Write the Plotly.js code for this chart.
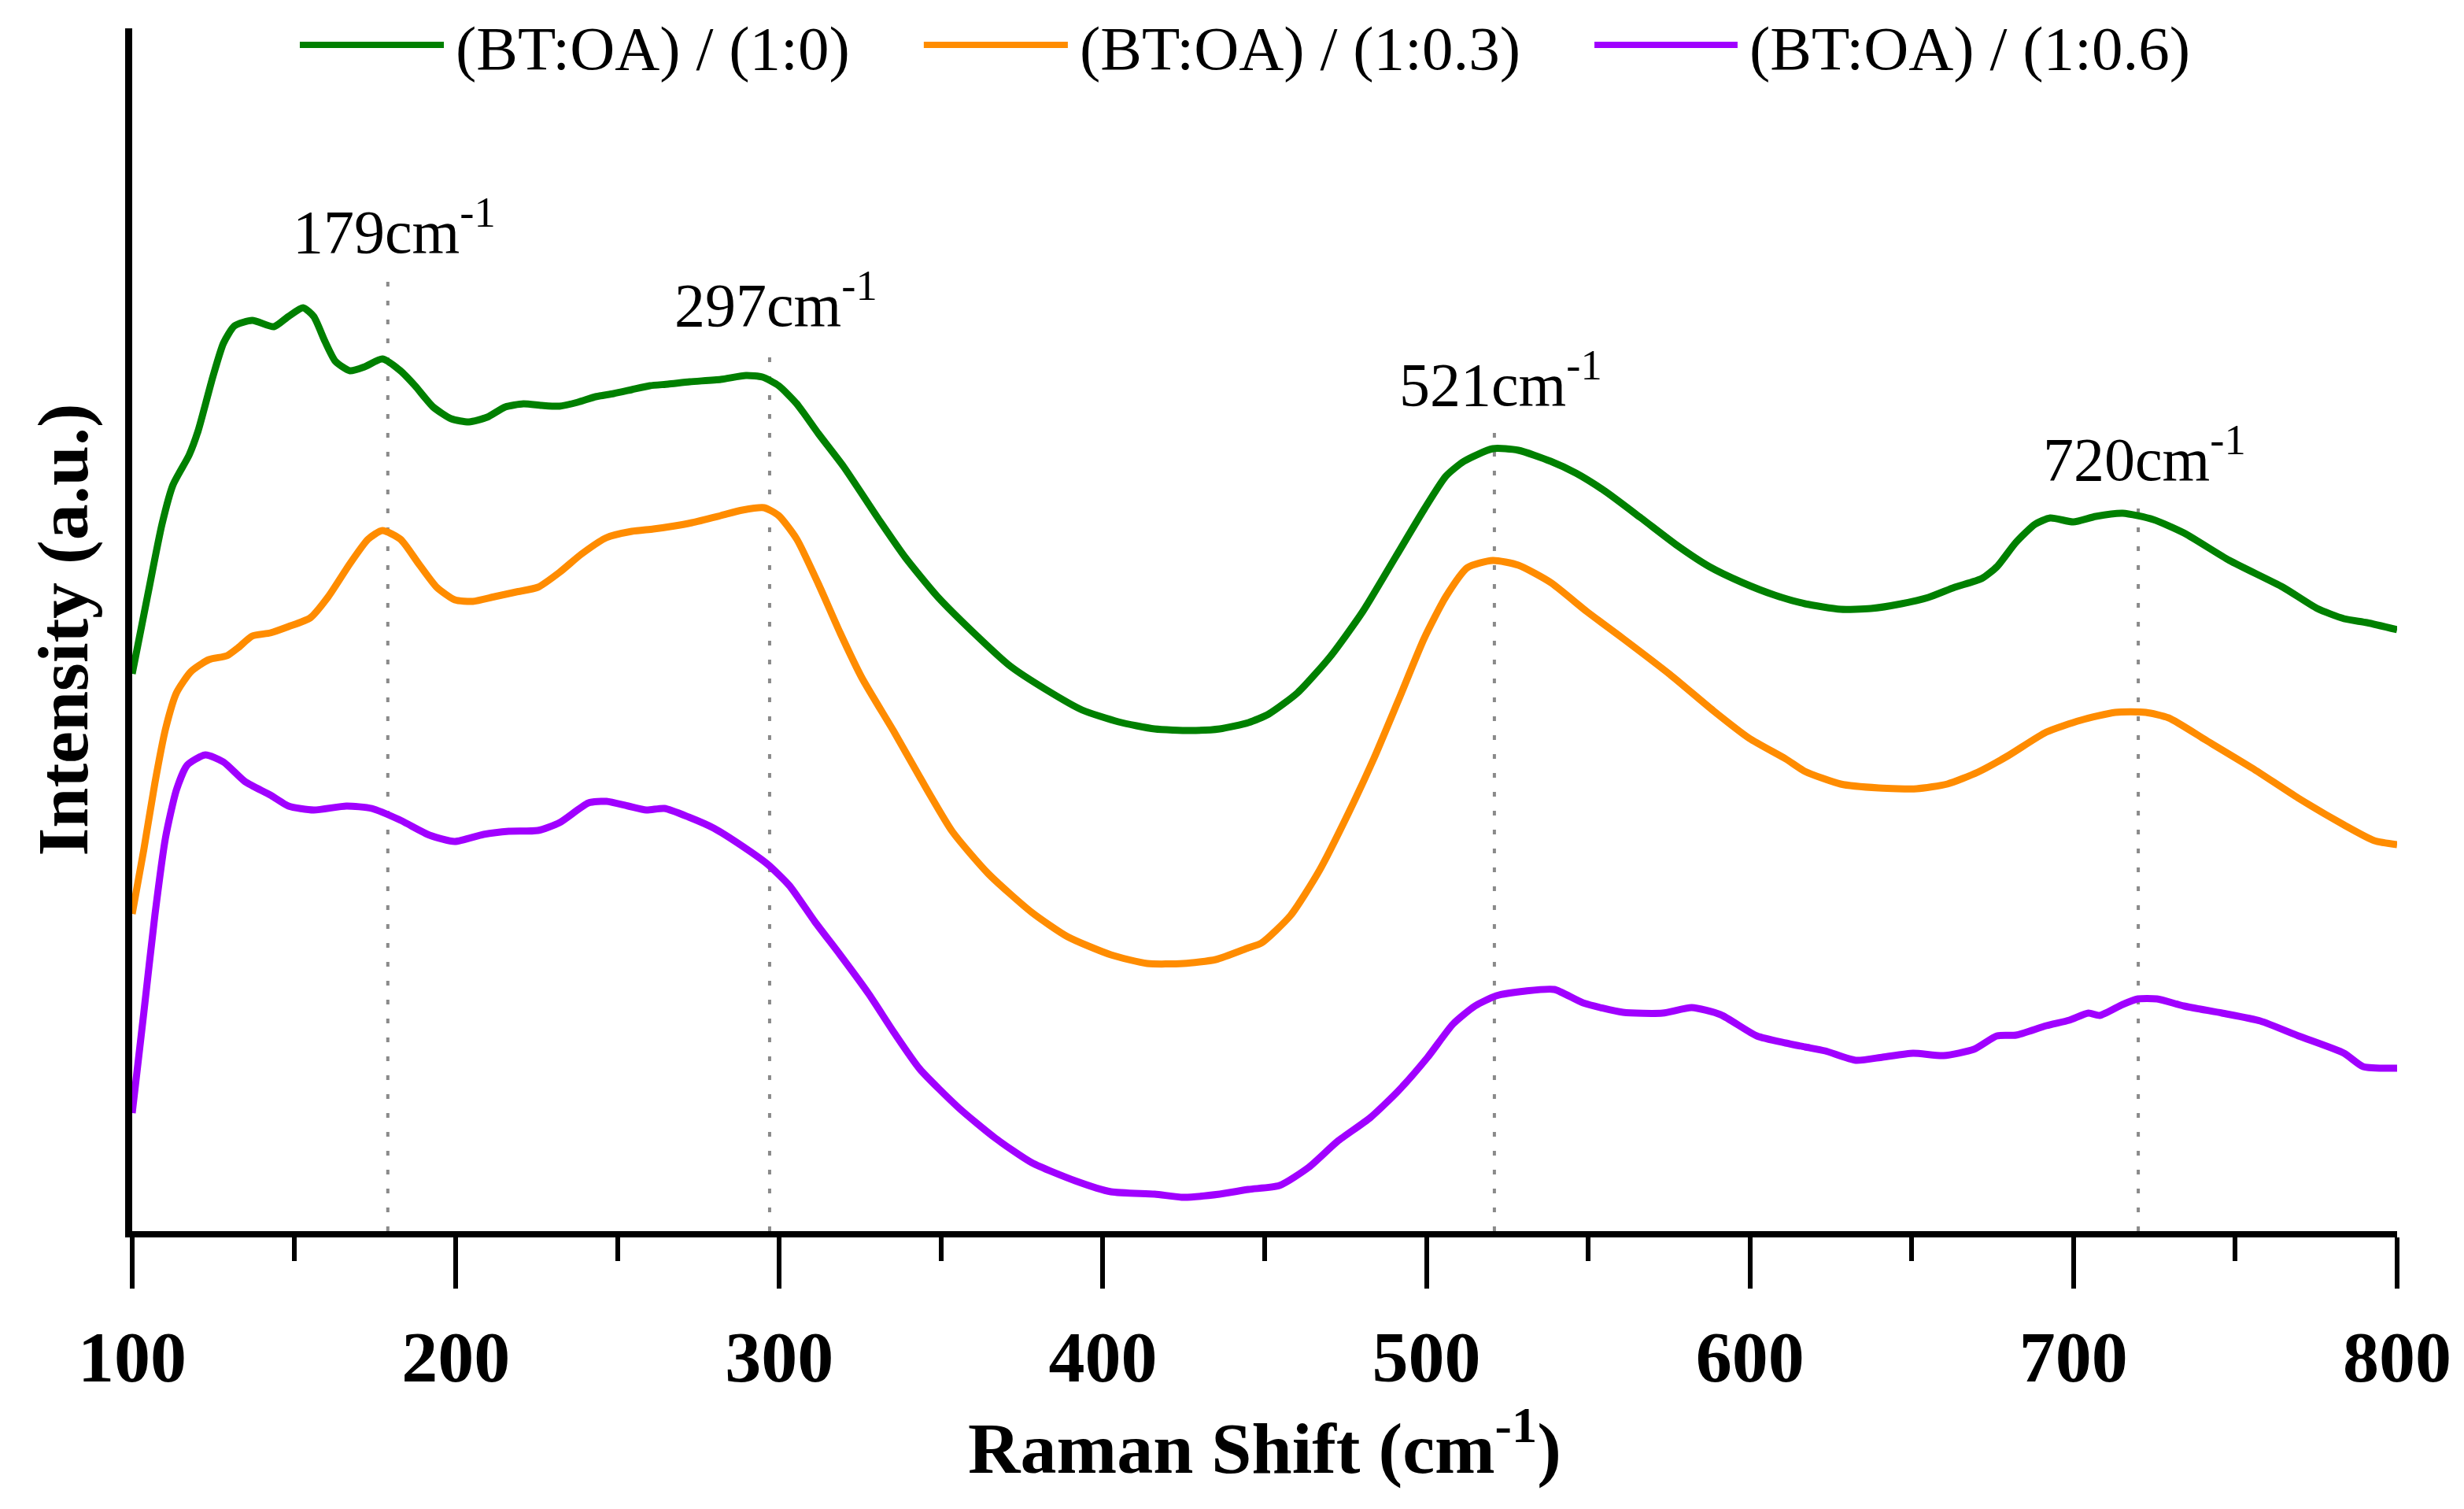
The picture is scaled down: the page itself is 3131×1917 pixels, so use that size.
<!DOCTYPE html>
<html>
<head>
<meta charset="utf-8">
<script src="https://cdn.plot.ly/plotly-3.0.1.min.js"></script>
<style>html,body{margin:0;padding:0;background:#fff;}#chart{width:3131px;height:1917px;}</style>
</head>
<body>
<div id="chart"></div>
<script>
// Raman shift (cm^-1) and intensity (a.u.)
const seriesNames = ["(BT:OA) / (1:0)", "(BT:OA) / (1:0.3)", "(BT:OA) / (1:0.6)"];
const seriesColors = ["#008000", "#ff8c00", "#a000ff"];

const shift_1_0 = [100,104.7,109.2,112.6,117.6,120.4,124.9,128.2,131.6,137.1,143.8,148.3,152.8,156.1,159.5,162.8,167.3,171.8,177.3,182.9,187.4,193,198.6,204.1,209.7,215.3,220.9,226.5,232.1,237.7,243.2,248.8,254.4,260,265.6,272.3,281.9,289.7,294.8,299.8,305.4,312.1,319.9,331.1,338.9,348.9,360.1,371.3,382.4,393.6,404.8,416,427.1,436.1,445,451.3,460.2,470.3,480.3,490.4,499.3,506,511.6,520.5,528.4,538.4,546.2,555.2,566.3,577.5,587.5,597.6,607.6,617,628,637.4,646.8,655.1,663.3,671.6,676.3,682.2,688.1,692.8,699.9,706.9,715.2,724.6,734.1,748.2,764.7,775.3,783.6,790.7,800];
const int_1_0 = [708,806,898,948,986,1017,1085,1128,1150,1157,1149,1162,1173,1162,1131,1105,1093,1098,1108,1093,1074,1047,1032,1028,1034,1047,1051,1049,1048,1053,1060,1064,1069,1074,1076,1079,1082,1087,1085,1074,1051,1013,971,902,856,806,760,718,688,662,647,638,636,638,646,657,684,730,787,856,917,959,978,994,992,978,963,940,906,871,844,824,808,797,790,791,797,805,818,829,844,875,898,906,901,908,912,904,887,852,818,791,778,773,764];

const shift_1_03 = [100,103.6,107,110.3,113.7,118.2,123.7,129.3,132.7,137.1,142.7,148.3,155,160.6,167.3,172.9,177.3,182.9,188.5,194.1,199.7,205.3,212,218.7,225.4,232.1,238.8,246.6,254.4,261.1,267.8,273,281.9,288.6,295.3,299.8,305.4,312.1,318.8,325.5,335.5,343.4,353.4,364.6,378,389.1,402.5,413.7,424.9,434.9,445,449,458,466.9,475.9,483.7,491.5,499.3,506,512.7,520.5,528.4,538.4,549.6,560.7,575.3,588.7,599.8,611,617,628,639.8,651.5,661,670.4,679.8,691.6,702.2,712.9,722.3,729.4,741.2,755.3,769.5,783.6,793,800];
const int_1_03 = [403,485,569,638,684,711,726,731,741,756,760,768,779,806,848,879,890,879,848,818,802,800,806,812,818,837,860,881,889,892,896,900,909,916,919,909,879,822,760,703,634,577,508,454,405,374,351,340,340,345,360,366,401,458,531,600,676,753,806,843,852,846,824,787,753,707,661,626,600,584,568,563,562,568,583,604,634,649,659,659,652,623,588,550,516,496,491];

const shift_1_06 = [100,103.6,107,110.3,113.7,117,122.6,128.2,134.9,142.7,148.3,156.1,166.2,174,182.9,191.9,199.7,208.6,216.4,225.4,232.1,241,246.6,253.3,258.9,264.5,272,279.7,288.6,296.4,303.1,311,318.8,327.7,335.5,343.4,355.6,366.8,378,391.4,402.5,416,424.9,436.1,445,454.6,463.6,472.5,482.6,491.5,500.4,508.2,515,521.6,530.6,539.5,548.4,560.7,573,582,590.9,602.1,611,617,623.2,632.7,641,650.4,659.8,669.2,676.3,682.2,691.6,698.7,704.6,708.1,715.2,719.9,725.8,734.1,745.9,757.7,769.5,783.6,789.5,800];
const int_1_06 = [150,278,401,500,561,592,605,596,571,554,540,535,540,537,522,503,495,504,508,509,519,544,546,540,535,537,526,512,489,466,439,393,351,301,252,206,156,118,87,64,50,47,43,47,53,58,81,114,144,179,221,263,286,299,305,307,290,278,277,284,275,248,239,234,229,217,221,226,223,231,248,249,261,268,277,274,288,295,295,286,277,267,248,226,209,207];

// marked peaks: position (cm^-1) and top of the guide line (a.u.)
const peakPos = [179, 297, 521, 720];
const peakTop = [1214, 1121, 1020, 925];

const xTickVals = [100, 200, 300, 400, 500, 600, 700, 800];
const xTickText = ["100", "200", "300", "400", "500", "600", "700", "800"];

const shifts = [shift_1_0, shift_1_03, shift_1_06];
const ints = [int_1_0, int_1_03, int_1_06];

const FONT = "'Liberation Serif', 'Times New Roman', serif";

const traces = seriesNames.map((n, i) => ({
  type: "scatter", mode: "lines", name: n,
  x: shifts[i], y: ints[i],
  line: {color: seriesColors[i], width: 9, shape: "spline", smoothing: 0.6},
  showlegend: false, hoverinfo: "skip"
}));

const shapes = [];
const annotations = [];
peakPos.forEach((p, i) => {
  shapes.push({type: "line", xref: "x", yref: "y", x0: p, x1: p, y0: 0, y1: peakTop[i],
    line: {color: "#8a8a8a", width: 4, dash: "6px,18px"}, layer: "below"});
  annotations.push({xref: "x", yref: "y", x: p, y: peakTop[i] + 10, xanchor: "center", yanchor: "bottom",
    text: p + "cm<sup>-1</sup>", showarrow: false, xshift: 8,
    font: {family: FONT, size: 78, color: "#000"}});
});

// legend drawn as line samples + labels across the top of the plot
const legX0 = [0.074, 0.3495, 0.6456];
const legX1 = [0.1376, 0.4131, 0.7088];
seriesNames.forEach((n, i) => {
  shapes.push({type: "line", xref: "paper", yref: "paper", x0: legX0[i], x1: legX1[i], y0: 0.9862, y1: 0.9862,
    line: {color: seriesColors[i], width: 8}});
  annotations.push({xref: "paper", yref: "paper", x: legX1[i] + 0.0045, y: 0.9830, xanchor: "left", yanchor: "middle",
    text: n, showarrow: false, font: {family: FONT, size: 79, color: "#000"}});
});

const layout = {
  width: 3131, height: 1917,
  margin: {l: 168, r: 85, t: 36, b: 353, pad: 0},
  paper_bgcolor: "#fff", plot_bgcolor: "#fff",
  showlegend: false,
  font: {family: FONT, color: "#000"},
  xaxis: {
    range: [100, 800], tickvals: xTickVals, ticktext: xTickText,
    showgrid: false, zeroline: false,
    showline: true, linecolor: "#000", linewidth: 8,
    ticks: "outside", ticklen: 65, tickwidth: 6, tickcolor: "#000",
    minor: {dtick: 50, tick0: 100, ticks: "outside", ticklen: 30, tickwidth: 6, tickcolor: "#000", showgrid: false},
    tickfont: {family: FONT, size: 92, color: "#000", weight: "bold"},
    ticklabelstandoff: 8,
    title: {text: "<b>Raman Shift (cm<sup>-1</sup>)</b>", font: {family: FONT, size: 92, color: "#000"}, standoff: 24}
  },
  yaxis: {
    range: [0, 1528], showgrid: false, zeroline: false,
    showline: true, linecolor: "#000", linewidth: 9,
    ticks: "", showticklabels: false,
    title: {text: "<b>Intensity (a.u.)</b>", font: {family: FONT, size: 92, color: "#000"}, standoff: 20}
  },
  shapes: shapes,
  annotations: annotations
};

Plotly.newPlot("chart", traces, layout, {displayModeBar: false});
</script>
</body>
</html>
